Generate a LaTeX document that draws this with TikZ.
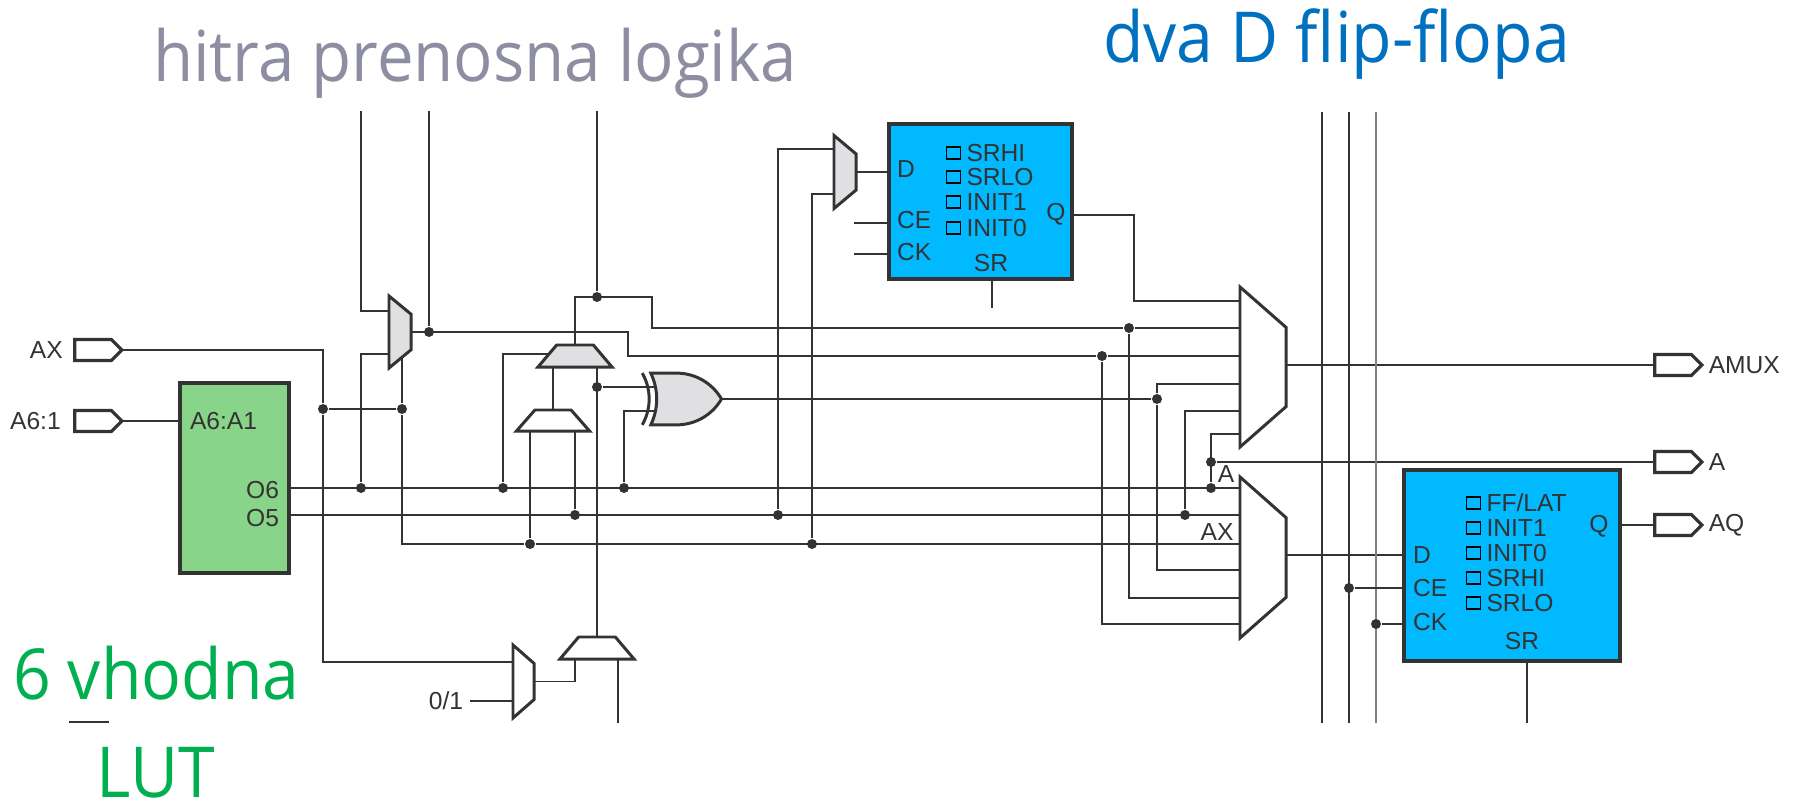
\documentclass[tikz,border=0pt]{standalone}
\usepackage{fontspec}
\setmainfont{Liberation Sans}
\newfontfamily\titlefont[FakeStretch=0.94]{Open Sans}
\newfontfamily\logicfont[FakeStretch=0.93]{Open Sans}
\usepackage{xcolor}
\usetikzlibrary{positioning, backgrounds}
\usetikzlibrary{shapes.geometric, shapes.symbols, shapes.gates.logic.US}
\definecolor{wirecol}{HTML}{333333}
\definecolor{muxgray}{HTML}{E0E0E3}
\definecolor{lutgreen}{HTML}{88D488}
\definecolor{ffblue}{HTML}{00B9FF}
\definecolor{logicgray}{HTML}{8E8EA2}
\definecolor{ffhead}{HTML}{0070C0}
\definecolor{luthead}{HTML}{00B050}
\tikzset{
    wire/.style={draw=wirecol, line width=0.5pt},
    dot/.style={circle, fill=wirecol, inner sep=0pt, minimum size=0.1cm},
    lbl/.style={inner sep=0pt, outer sep=0pt, text=wirecol, font=\fontsize{7}{8}\selectfont},
    port/.style={signal, signal to=east, draw=wirecol, line width=0.9pt, fill=white, inner sep=0pt, outer sep=0pt, minimum width=0.47cm, minimum height=0.21cm},
    block/.style={rectangle, draw=wirecol, line width=1pt, inner sep=0pt, outer sep=0pt},
    flag/.style={rectangle, draw=black, line width=0.5pt, inner sep=0pt, outer sep=0pt, minimum width=0.14cm, minimum height=0.115cm},
    mux/.style={trapezium, trapezium angle=63, trapezium stretches=true, draw=wirecol, line width=0.85pt, inner sep=1pt, outer sep=0pt, fill=white},
    title/.style={inner sep=0pt, outer sep=0pt, anchor=base west, font=\titlefont\fontsize{20}{24}\selectfont},
}

\begin{document}
\begin{tikzpicture}[x=0.01cm, y=-0.01cm]
    \useasboundingbox (0,0) rectangle (1799,800);
    % headings
    \node[title, text=logicgray, font=\logicfont\fontsize{20}{24}\selectfont] (title-logic) at (153,81) {hitra prenosna logika};
    \node[title, text=ffhead] (title-ff) at (1103,62) {dva D flip-flopa};
    \node[title, text=luthead] (title-six) at (13,699) {6 vhodna};
    \node[title, text=luthead] (title-lut) at (97,797) {LUT};
    \coordinate (tick-a) at (69,722);
    \coordinate (tick-b) at (109,722);
    \draw[wire] (tick-a) -- (tick-b);

    % ports
    \node[port] (port-ax) at (93,350) {};
    \node[port] (port-in) at (93,421) {};
    \node[port] (port-amux) at (1673,365) {};
    \node[port] (port-a) at (1673,462) {};
    \node[port] (port-aq) at (1673,525) {};
    \node[lbl, left=0.12cm of port-ax] (label-ax) {AX};
    \node[lbl, left=0.14cm of port-in] (label-in) {A6:1};
    \node[lbl, right=0.07cm of port-amux] (label-amux) {AMUX};
    \node[lbl, right=0.07cm of port-a] (label-a) {A};
    \node[lbl, right=0.07cm of port-aq] (label-aq) {AQ};

    % LUT
    \node[block, fill=lutgreen, minimum width=1.09cm, minimum height=1.9cm] (lut) at (234.5,478) {};
    \node[lbl, anchor=west] (lut-in) at (190,421) {A6:A1};
    \node[lbl, anchor=east] (lut-o6) at (279,490) {O6};
    \node[lbl, anchor=east] (lut-o5) at (279,518) {O5};

    % flip-flop up
    \node[block, fill=ffblue, minimum width=1.83cm, minimum height=1.55cm] (ffa) at (980.5,201.5) {};
    \node[lbl, anchor=west] (ffa-d) at (897,169) {D};
    \node[lbl, anchor=west] (ffa-ce) at (897,220) {CE};
    \node[lbl, anchor=west] (ffa-ck) at (897,252) {CK};
    \node[lbl] (ffa-q) at (1056,214) {Q};
    \node[lbl] (ffa-sr) at (991,263) {SR};
    \node[flag] (flag-a1) at (953.5,153) {};
    \node[flag] (flag-a2) at (953.5,177) {};
    \node[flag] (flag-a3) at (953.5,202) {};
    \node[flag] (flag-a4) at (953.5,228) {};
    \node[lbl, right=0.06cm of flag-a1] (text-a1) {SRHI};
    \node[lbl, right=0.06cm of flag-a2] (text-a2) {SRLO};
    \node[lbl, right=0.06cm of flag-a3] (text-a3) {INIT1};
    \node[lbl, right=0.06cm of flag-a4] (text-a4) {INIT0};

    % flip-flop down
    \node[block, fill=ffblue, minimum width=2.16cm, minimum height=1.91cm] (ffb) at (1512,565.5) {};
    \node[lbl, anchor=west] (ffb-d) at (1413,555) {D};
    \node[lbl, anchor=west] (ffb-ce) at (1413,588) {CE};
    \node[lbl, anchor=west] (ffb-ck) at (1413,622) {CK};
    \node[lbl] (ffb-q) at (1599,526) {Q};
    \node[lbl] (ffb-sr) at (1522,641) {SR};
    \node[flag] (flag-b1) at (1473.5,503) {};
    \node[flag] (flag-b2) at (1473.5,528) {};
    \node[flag] (flag-b3) at (1473.5,553) {};
    \node[flag] (flag-b4) at (1473.5,578) {};
    \node[flag] (flag-b5) at (1473.5,603) {};
    \node[lbl, right=0.06cm of flag-b1] (text-b1) {FF/LAT};
    \node[lbl, right=0.06cm of flag-b2] (text-b2) {INIT1};
    \node[lbl, right=0.06cm of flag-b3] (text-b3) {INIT0};
    \node[lbl, right=0.06cm of flag-b4] (text-b4) {SRHI};
    \node[lbl, right=0.06cm of flag-b5] (text-b5) {SRLO};

    % multiplexers
    \node[mux, fill=muxgray, shape border rotate=270, minimum width=0.72cm, minimum height=0.22cm] (mux-a) at (400,332) {};
    \node[mux, fill=muxgray, shape border rotate=270, minimum width=0.73cm, minimum height=0.22cm] (mux-d) at (845,172) {};
    \node[mux, fill=muxgray, minimum width=0.74cm, minimum height=0.22cm] (mux-c) at (575,356) {};
    \node[mux, minimum width=0.73cm, minimum height=0.21cm] (mux-e) at (553,420.5) {};
    \node[mux, minimum width=0.74cm, minimum height=0.22cm] (mux-f) at (597,648) {};
    \node[mux, shape border rotate=270, minimum width=0.73cm, minimum height=0.21cm] (mux-s) at (523.5,681.5) {};
    \node[mux, shape border rotate=270, minimum width=1.6cm, minimum height=0.46cm] (mux-o) at (1263,367) {};
    \node[mux, shape border rotate=270, minimum width=1.61cm, minimum height=0.46cm] (mux-q) at (1263,557.5) {};
    \begin{scope}[shift={(681,399)}, scale=0.86, transform shape]
        \node[xor gate US, logic gate inputs=nn, logic gate input sep=0.08cm, draw=wirecol, line width=0.85pt, fill=muxgray, inner sep=0pt, minimum height=0.33cm, minimum width=0.5cm] (xor) at (0,0) {};
    \end{scope}

    % junctions
    \node[dot] (dot-ax) at (323,409) {};
    \node[dot] (dot-sel) at (402,409) {};
    \node[dot] (dot-m) at (429,332) {};
    \node[dot] (dot-c) at (597,297) {};
    \node[dot] (dot-y) at (597,387) {};
    \node[dot] (dot-o6a) at (361,488) {};
    \node[dot] (dot-o6b) at (503,488) {};
    \node[dot] (dot-o6c) at (624,488) {};
    \node[dot] (dot-o6d) at (1211,488) {};
    \node[dot] (dot-o5a) at (575,515) {};
    \node[dot] (dot-o5b) at (778,515) {};
    \node[dot] (dot-o5c) at (1185,515) {};
    \node[dot] (dot-la) at (530,544) {};
    \node[dot] (dot-lb) at (812,544) {};
    \node[dot] (dot-f1) at (1129,328) {};
    \node[dot] (dot-f2) at (1102,356) {};
    \node[dot] (dot-x) at (1157,399) {};
    \node[dot] (dot-a) at (1211,462) {};
    \node[dot] (dot-ce) at (1349,588) {};
    \node[dot] (dot-ck) at (1376,624) {};

    \node[lbl, inner xsep=0.07cm] (label-sel) at (446,701) {0/1};
    \node[lbl] (label-muxa) at (1226,474) {A};
    \node[lbl] (label-muxx) at (1217,532) {AX};

    % free ends and rows
    \coordinate (top-a) at (361,111);
    \coordinate (top-b) at (429,111);
    \coordinate (top-c) at (597,111);
    \coordinate (rail-a) at (1322,112);
    \coordinate (rail-b) at (1349,112);
    \coordinate (rail-c) at (1376,112);
    \coordinate (end-a) at (1322,723);
    \coordinate (end-b) at (1349,723);
    \coordinate (end-c) at (1376,723);
    \coordinate (end-f) at (618,723);
    \coordinate (end-sr) at (1527,723);
    \coordinate (end-sra) at (992,308);
    \coordinate (start-ce) at (854,223);
    \coordinate (start-ck) at (854,254);
    \coordinate (row-a1) at (0,311);
    \coordinate (row-a2) at (0,354);
    \coordinate (row-d1) at (0,149);
    \coordinate (row-d2) at (0,194);
    \coordinate (row-s) at (0,662);
    \coordinate (row-o4) at (0,384);
    \coordinate (row-o5) at (0,411);
    \coordinate (row-o6) at (0,434);
    \coordinate (row-q3) at (0,544);
    \coordinate (row-q4) at (0,570);
    \coordinate (row-q5) at (0,598);
    \coordinate (row-q6) at (0,624);
    \coordinate (row-d) at (0,555);
    \coordinate (row-qa) at (0,215);
    \coordinate (bend-m) at (628,332);
    \coordinate (bend-c) at (652,297);
    \coordinate (bend-q) at (1134,301);

    \begin{scope}[on background layer]
        % left side
        \draw[wire] (port-ax.east) -| (dot-ax);
        \draw[wire] (port-in.east) -- (lut.west |- port-in);
        \draw[wire] (dot-ax) -- (dot-sel);
        \draw[wire] (dot-ax) |- (mux-s.bottom side |- row-s);
        \draw[wire] (mux-a.center -| dot-sel) -- (dot-sel);
        \draw[wire] (dot-sel) |- (dot-la);
        \draw[wire] (lut.east |- dot-o6a) -- (mux-q.bottom side |- dot-o6a);
        \draw[wire] (lut.east |- dot-o5a) -- (mux-q.bottom side |- dot-o5a);
        \draw[wire] (dot-la) -- (mux-q.bottom side |- row-q3);
        \draw[wire] (top-a) |- (mux-a.bottom side |- row-a1);
        \draw[wire] (dot-o6a) |- (mux-a.bottom side |- row-a2);
        \draw[wire] (top-b) -- (dot-m);
        \draw[wire] (mux-a.top side) -- (bend-m) |- (dot-f2);
        \draw[wire] (dot-f2) -- (mux-o.bottom side |- dot-f2);

        % carry logic
        \draw[wire] (top-c) -- (dot-c);
        \draw[wire] (mux-c.top side) |- (bend-c) |- (dot-f1);
        \draw[wire] (dot-f1) -- (mux-o.bottom side |- dot-f1);
        \draw[wire] (dot-o6b) |- (mux-c.center |- row-a2);
        \draw[wire] (mux-e.top side) -- (mux-c.center -| mux-e.top side);
        \draw[wire] (mux-c.center -| dot-y) -- (mux-f.top side);
        \draw[wire] (dot-la) -- (mux-e.center -| dot-la);
        \draw[wire] (dot-o5a) -- (mux-e.center -| dot-o5a);
        \draw[wire] (dot-y) -- (xor.center |- dot-y);
        \draw[wire] (dot-o6c) |- (xor.center |- row-o5);
        \draw[wire] (xor.output) -- (dot-x);
        \draw[wire] (dot-x) |- (mux-o.bottom side |- row-o4);
        \draw[wire] (dot-x) |- (mux-q.bottom side |- row-q4);
        \draw[wire] (mux-s.top side) -| (mux-f.bottom side -| dot-o5a);
        \draw[wire] (label-sel.east) -- (mux-s.bottom side |- label-sel);
        \draw[wire] (end-f) -- (end-f |- mux-f.bottom side);

        % upper flip-flop
        \draw[wire] (dot-o5b) |- (mux-d.bottom side |- row-d1);
        \draw[wire] (dot-lb) |- (mux-d.bottom side |- row-d2);
        \draw[wire] (mux-d.top side) -- (ffa.west |- mux-d.top side);
        \draw[wire] (start-ce) -- (ffa.west |- start-ce);
        \draw[wire] (start-ck) -- (ffa.west |- start-ck);
        \draw[wire] (end-sra) -- (end-sra |- ffa.south);
        \draw[wire] (ffa.east |- row-qa) -| (bend-q) -- (mux-o.bottom side |- bend-q);

        % output multiplexers
        \draw[wire] (dot-f1) |- (mux-q.bottom side |- row-q5);
        \draw[wire] (dot-f2) |- (mux-q.bottom side |- row-q6);
        \draw[wire] (dot-o5c) |- (mux-o.bottom side |- row-o5);
        \draw[wire] (dot-o6d) |- (mux-o.bottom side |- row-o6);
        \draw[wire] (dot-a) -- (port-a.west);
        \draw[wire] (mux-o.center |- port-amux) -- (port-amux.west);
        \draw[wire] (mux-q.center |- row-d) -- (ffb.west |- row-d);

        % rails and lower flip-flop
        \draw[wire] (rail-a) -- (end-a);
        \draw[wire] (rail-b) -- (end-b);
        \draw[wire, draw=gray] (rail-c) -- (end-c);
        \draw[wire] (dot-ce) -- (ffb.west |- dot-ce);
        \draw[wire] (dot-ck) -- (ffb.west |- dot-ck);
        \draw[wire] (end-sr) -- (end-sr |- ffb.south);
        \draw[wire] (ffb.east |- port-aq) -- (port-aq.west);
    \end{scope}
\end{tikzpicture}
\end{document}
